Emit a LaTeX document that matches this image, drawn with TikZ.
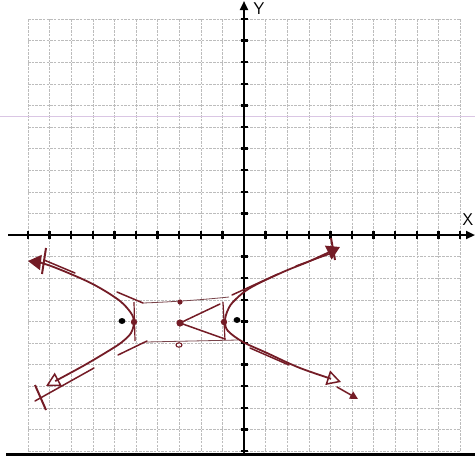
\documentclass[tikz,border=0pt]{standalone}
\usetikzlibrary{arrows.meta}
\definecolor{ink}{RGB}{116,28,38}
\definecolor{gridc}{RGB}{188,188,188}
\definecolor{pinkc}{RGB}{218,198,228}
\tikzset{
  opentip/.tip={Triangle[open,length=14pt,width=15pt,line width=1.5pt]},
  fulltip/.tip={Triangle[length=13pt,width=15pt]},
  smalltip/.tip={Triangle[length=8pt,width=8pt]},
  axtip/.tip={Triangle[length=9pt,width=8pt]}
}
\begin{document}
\begin{tikzpicture}[x=1pt,y=-1pt,
  gridline/.style={gridc, line width=0.6pt, dash pattern=on 2.5pt off 1.2pt},
  axis/.style={black, line width=2.2pt},
  tickmark/.style={black, line width=2.4pt},
  branch/.style={ink, line width=1.8pt, line cap=round},
  asym/.style={ink, line width=1.5pt, line cap=round},
  boxline/.style={ink!60!gray, line width=0.8pt},
  dotf/.style={ink, fill=ink},
  lab/.style={font=\sffamily\fontsize{17}{17}\selectfont, inner sep=0pt}]
\useasboundingbox (0,0) rectangle (475,456);
\fill[white] (0,0) rectangle (475,456);
% grid
\foreach \i in {-10,...,10} {
  \draw[gridline] ({244+21.6*\i},19) -- ({244+21.6*\i},451);
  \draw[gridline] (28,{235+21.6*\i}) -- (460,{235+21.6*\i});
}
% scan line
\draw[pinkc, line width=0.9pt] (0,116) -- (475,116);
% axes
\draw[axis, -axtip] (8,235) -- (475,235);
\draw[axis, -axtip] (244,456) -- (244,1);
\foreach \i in {-10,...,-1,1,2,...,10} {
  \draw[tickmark] ({244+21.6*\i},231) -- ++(0,8);
  \draw[tickmark] (240.5,{235+21.6*\i}) -- ++(7,0);
}
\node[lab] (ylab) at (259,9) {Y};
\node[lab] (xlab) at (468,220) {X};
\draw[black, line width=3pt] (6,454.5) -- (475,454.5);
% box
\draw[boxline] (143,303) .. controls (170,302) and (200,300) .. (229,297);
\draw[boxline] (146,342) -- (238,340);
% vertex ticks
\draw[ink, line width=1.2pt] (134,302) -- (135,341);
\draw[ink, line width=1.2pt] (223,302) -- (225,340);
% asymptotes
\coordinate (c) at (180,323);
\draw[asym] (c) -- (220,304);
\draw[asym] (c) -- (225,339);
\draw[asym] (232,295) -- (278,274);
\draw[asym] (296,266) -- (332,253);
\draw[asym] (250,348) -- (289,365);
\draw[asym, -smalltip] (337,387) -- (358,399);
\draw[asym] (143,303) -- (117,292);
\draw[asym] (75,273) -- (44,260);
\draw[asym] (147,341) -- (118,355);
\draw[asym] (94,368) -- (35,401);
% end marks
\draw[ink, line width=2pt] (35,385) -- (46,410);
\draw[ink, line width=2pt] (46,248) -- (42,274);
\draw[ink, line width=2pt] (331,238) -- (335,260);
% left branch
\draw[branch, fulltip-opentip] plot[smooth, tension=0.55] coordinates
  {(28,261) (48,265) (80,278) (100,288) (120,301) (131,313) (134,322)
   (131,333) (122,342) (110,350) (83,366) (46,386)};
% right branch
\draw[branch, fulltip-opentip] plot[smooth, tension=0.55] coordinates
  {(340,247) (310,261) (283,272) (250,288) (233,302) (227,312) (225,322)
   (228,331) (243,342) (267,353) (300,368) (341,382)};
% points
\fill[dotf] (134,322) circle (3.2);
\fill[black] (122,321) ellipse (3.4 and 3);
\fill[dotf] (180,302) circle (2.6);
\fill[dotf] (180,323) circle (3.6);
\draw[ink, line width=1.1pt] (179,345) ellipse (3 and 2.2);
\fill[dotf] (224,322) circle (3.2);
\fill[black] (237,320) ellipse (3.4 and 3);
\end{tikzpicture}
\end{document}
